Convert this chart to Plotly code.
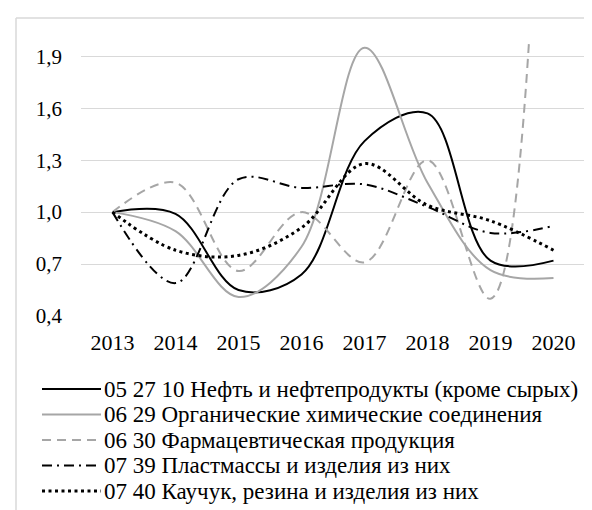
import plotly.graph_objects as go

years = [2013, 2014, 2015, 2016, 2017, 2018, 2019, 2020]
year_labels = ["2013", "2014", "2015", "2016", "2017", "2018", "2019", "2020"]

series_names = [
    "05 27 10 Нефть и нефтепродукты (кроме сырых)",
    "06 29 Органические химические соединения",
    "06 30 Фармацевтическая продукция",
    "07 39 Пластмассы и изделия из них",
    "07 40 Каучук, резина и изделия из них",
]
oil = [1.0, 0.99, 0.55, 0.64, 1.41, 1.57, 0.72, 0.72]
organic = [1.0, 0.89, 0.51, 0.80, 1.95, 1.17, 0.665, 0.62]
pharma = [1.0, 1.17, 0.66, 1.0, 0.71, 1.30, 0.50, 6.0]
plastics = [1.0, 0.59, 1.19, 1.14, 1.16, 1.03, 0.88, 0.92]
rubber = [1.0, 0.78, 0.75, 0.91, 1.28, 1.04, 0.95, 0.78]

values = [oil, organic, pharma, plastics, rubber]
styles = [
    dict(color="#000000", width=2, dash="solid"),
    dict(color="#a6a6a6", width=2, dash="solid"),
    dict(color="#a6a6a6", width=2, dash="9px,6px"),
    dict(color="#000000", width=2, dash="10px,5px,2px,5px"),
    dict(color="#000000", width=3, dash="3px,3.5px"),
]

FONT = "Liberation Serif"

W, H = 592, 510
L, R, T, B = 73, 15, 31, 202
pw, ph = W - L - R, H - T - B


def px_x(p):
    return (p - L) / pw


def px_y(p):
    return (H - B - p) / ph


fig = go.Figure()
for name, vals, st in zip(series_names, values, styles):
    fig.add_trace(go.Scatter(
        x=years, y=vals, name=name, mode="lines", showlegend=False,
        line=dict(shape="spline", smoothing=1.0, **st),
    ))

# legend drawn as line samples + text labels
legend_rows = [381, 406.5, 432, 457.5, 483]
shapes = [
    dict(type="line", xref="paper", yref="paper",
         x0=px_x(8), x1=px_x(W + 5), y0=px_y(10), y1=px_y(10),
         line=dict(color="#d9d9d9", width=1.5)),
    dict(type="line", xref="paper", yref="paper",
         x0=px_x(8), x1=px_x(8), y0=px_y(10), y1=px_y(H + 5),
         line=dict(color="#d9d9d9", width=1.5)),
]
annotations = []
for name, st, ry in zip(series_names, styles, legend_rows):
    shapes.append(dict(type="line", xref="paper", yref="paper",
                       x0=px_x(34), x1=px_x(93), y0=px_y(ry), y1=px_y(ry),
                       line=dict(color=st["color"], width=st["width"], dash=st["dash"])))
    annotations.append(dict(xref="paper", yref="paper", x=px_x(94), y=px_y(ry),
                            xanchor="left", yanchor="middle", showarrow=False,
                            text=name, font=dict(family=FONT, size=23, color="#000000")))

fig.update_layout(
    width=W, height=H,
    margin=dict(l=L, r=R, t=T, b=B),
    paper_bgcolor="white", plot_bgcolor="white",
    separators=", ",
    font=dict(family=FONT, size=21, color="#000000"),
    showlegend=False,
    xaxis=dict(
        range=[2012.5, 2020.5], tickmode="array", tickvals=years, ticktext=year_labels,
        showgrid=False, zeroline=False, showline=False, ticks="",
        tickfont=dict(family=FONT, size=22), ticklabelstandoff=11,
    ),
    yaxis=dict(
        range=[0.4, 2.0], tick0=0.4, dtick=0.3, tickformat=".1f",
        showgrid=True, gridcolor="#d9d9d9", gridwidth=1, zeroline=False,
        showline=False, ticks="", tickfont=dict(family=FONT, size=21),
        ticklabelstandoff=18,
    ),
    shapes=shapes,
    annotations=annotations,
)

fig.write_html("out.html")
